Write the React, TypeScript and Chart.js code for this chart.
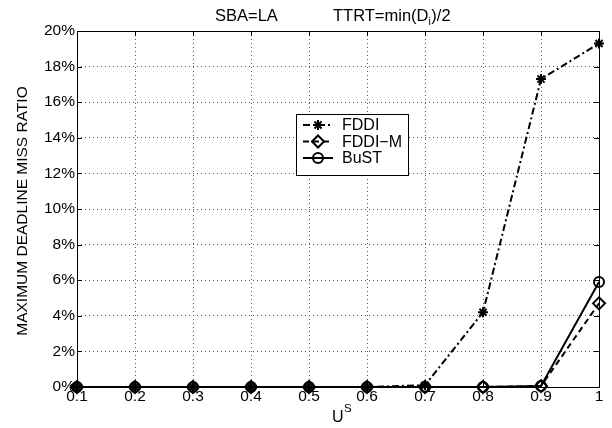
import React, { useEffect, useRef } from "react";
import { Chart, registerables } from "chart.js";
import { drawPoint } from "chart.js/helpers";

Chart.register(...registerables);

const X_VALUES = [0.1, 0.2, 0.3, 0.4, 0.5, 0.6, 0.7, 0.8, 0.9, 1.0];
const FDDI = [0, 0, 0, 0, 0, 0, 0.1, 4.2, 17.3, 19.3];
const FDDI_M = [0, 0, 0, 0, 0, 0, 0, 0, 0.05, 4.7];
const BUST = [0, 0, 0, 0, 0, 0, 0, 0, 0.05, 5.9];
const X_TICKS = [0.1, 0.2, 0.3, 0.4, 0.5, 0.6, 0.7, 0.8, 0.9, 1];
const Y_TICKS = [0, 2, 4, 6, 8, 10, 12, 14, 16, 18, 20];
const SERIES_NAMES = ["FDDI", "FDDI\u2212M", "BuST"];
const TITLE_LEFT = "SBA=LA";
const Y_TITLE = "MAXIMUM DEADLINE MISS RATIO";

const FONT = "'Liberation Sans', Arial, Helvetica, sans-serif";
const FS = 15.5;

const toXY = (arr: number[]) => X_VALUES.map((x, i) => ({ x, y: arr[i] }));

const framePlugin = {
  id: "matlabFrame",
  afterDraw(chart: any) {
    const { ctx, chartArea: a, scales } = chart;
    const xs = scales.x;
    const ys = scales.y;
    ctx.save();
    // frame
    ctx.strokeStyle = "#000";
    ctx.lineWidth = 1;
    ctx.setLineDash([]);
    ctx.strokeRect(a.left + 0.5, a.top + 0.5, a.right - a.left, a.bottom - a.top);
    // inner ticks
    const tl = 5;
    ctx.beginPath();
    X_TICKS.forEach((v) => {
      const px = Math.round(xs.getPixelForValue(v)) + 0.5;
      ctx.moveTo(px, a.bottom);
      ctx.lineTo(px, a.bottom - tl);
      ctx.moveTo(px, a.top);
      ctx.lineTo(px, a.top + tl);
    });
    Y_TICKS.forEach((v) => {
      const py = Math.round(ys.getPixelForValue(v)) + 0.5;
      ctx.moveTo(a.left, py);
      ctx.lineTo(a.left + tl, py);
      ctx.moveTo(a.right, py);
      ctx.lineTo(a.right - tl, py);
    });
    ctx.stroke();

    // titles
    ctx.fillStyle = "#000";
    const TFS = 16.5;
    ctx.font = `${TFS}px ${FONT}`;
    ctx.textBaseline = "alphabetic";
    ctx.textAlign = "left";
    ctx.fillText(TITLE_LEFT, 215, 21);
    let tx = 333;
    const p1 = "TTRT=min(D";
    ctx.fillText(p1, tx, 21);
    tx += ctx.measureText(p1).width;
    ctx.font = `${TFS - 6}px ${FONT}`;
    ctx.fillText("i", tx, 25);
    tx += ctx.measureText("i").width + 0.5;
    ctx.font = `${TFS}px ${FONT}`;
    ctx.fillText(")/2", tx, 21);

    // x title U^S
    ctx.font = `16px ${FONT}`;
    ctx.fillText("U", 332, 422);
    ctx.font = `11.5px ${FONT}`;
    ctx.fillText("S", 344, 412);

    // y title
    ctx.save();
    ctx.translate(23, (a.top + a.bottom) / 2 + 2);
    ctx.rotate(-Math.PI / 2);
    ctx.font = `${FS}px ${FONT}`;
    ctx.textAlign = "center";
    ctx.textBaseline = "middle";
    ctx.fillText(Y_TITLE, 0, 0);
    ctx.restore();

    // legend
    const lx = 296, ly = 114, lw = 112, lh = 61;
    ctx.fillStyle = "#fff";
    ctx.fillRect(lx, ly, lw, lh);
    ctx.strokeStyle = "#000";
    ctx.lineWidth = 1;
    ctx.strokeRect(lx + 0.5, ly + 0.5, lw, lh);
    chart.data.datasets.forEach((ds: any, i: number) => {
      const y = ly + 11 + i * 16.5;
      ctx.save();
      ctx.strokeStyle = "#000";
      ctx.lineWidth = ds.borderWidth;
      ctx.setLineDash(ds.borderDash || []);
      ctx.beginPath();
      ctx.moveTo(lx + 7, y);
      ctx.lineTo(lx + 37, y);
      ctx.stroke();
      ctx.setLineDash([]);
      ctx.fillStyle = ds.pointBackgroundColor;
      ctx.lineWidth = ds.pointBorderWidth;
      drawPoint(ctx, { pointStyle: ds.pointStyle, rotation: 0, radius: ds.pointRadius, borderWidth: ds.pointBorderWidth }, lx + 22, y);
      ctx.restore();
      ctx.fillStyle = "#000";
      ctx.font = `16px ${FONT}`;
      ctx.textAlign = "left";
      ctx.textBaseline = "middle";
      ctx.fillText(SERIES_NAMES[i], lx + 46, y + 1);
    });
    ctx.restore();
  },
};

export default function App() {
  const ref = useRef<HTMLCanvasElement | null>(null);
  useEffect(() => {
    if (!ref.current) return;
    const common = {
      borderColor: "#000",
      pointBorderColor: "#000",
      pointBackgroundColor: "rgba(0,0,0,0)",
      borderWidth: 2,
      pointBorderWidth: 2,
      pointRadius: 5,
      fill: false,
      tension: 0,
      clip: false as any,
    };
    const chart = new Chart(ref.current, {
      type: "line",
      data: {
        datasets: [
          { ...common, label: SERIES_NAMES[0], data: toXY(FDDI), borderDash: [7, 3, 2, 3], pointStyle: "star", pointRadius: 5 },
          { ...common, label: SERIES_NAMES[1], data: toXY(FDDI_M), borderDash: [6, 4], pointStyle: "rectRot", pointRadius: 6 },
          { ...common, label: SERIES_NAMES[2], data: toXY(BUST), borderDash: [], pointStyle: "circle", pointRadius: 5 },
        ] as any,
      },
      plugins: [framePlugin],
      options: {
        animation: false,
        responsive: false,
        layout: { padding: { left: 0, top: 31, right: 13, bottom: 0 } },
        plugins: { legend: { display: false }, tooltip: { enabled: false }, title: { display: false } },
        scales: {
          x: {
            type: "linear",
            min: 0.1,
            max: 1,
            afterBuildTicks: (s: any) => { s.ticks = X_TICKS.map((v) => ({ value: v })); },
            afterFit: (s: any) => { s.height = 41; },
            ticks: {
              color: "#000",
              font: { family: FONT, size: FS },
              padding: 0,
              maxRotation: 0,
              autoSkip: false,
              callback: (v: any) => String(Math.round(Number(v) * 10) / 10),
            },
            grid: { display: true, drawTicks: false, color: "#555", lineWidth: 1 },
            border: { display: false, dash: [1, 3] },
          },
          y: {
            type: "linear",
            min: 0,
            max: 20,
            afterBuildTicks: (s: any) => { s.ticks = Y_TICKS.map((v) => ({ value: v })); },
            afterFit: (s: any) => { s.width = 77; },
            ticks: {
              color: "#000",
              font: { family: FONT, size: FS },
              padding: 2,
              autoSkip: false,
              callback: (v: any) => `${v}%`,
            },
            grid: { display: true, drawTicks: false, color: "#555", lineWidth: 1 },
            border: { display: false, dash: [1, 3] },
          },
        },
      },
    });
    return () => chart.destroy();
  }, []);
  return (
    <canvas
      ref={ref}
      width={612}
      height={428}
      style={{ position: "absolute", left: 0, top: 0, width: 612, height: 428, display: "block", background: "#fff" }}
    />
  );
}
